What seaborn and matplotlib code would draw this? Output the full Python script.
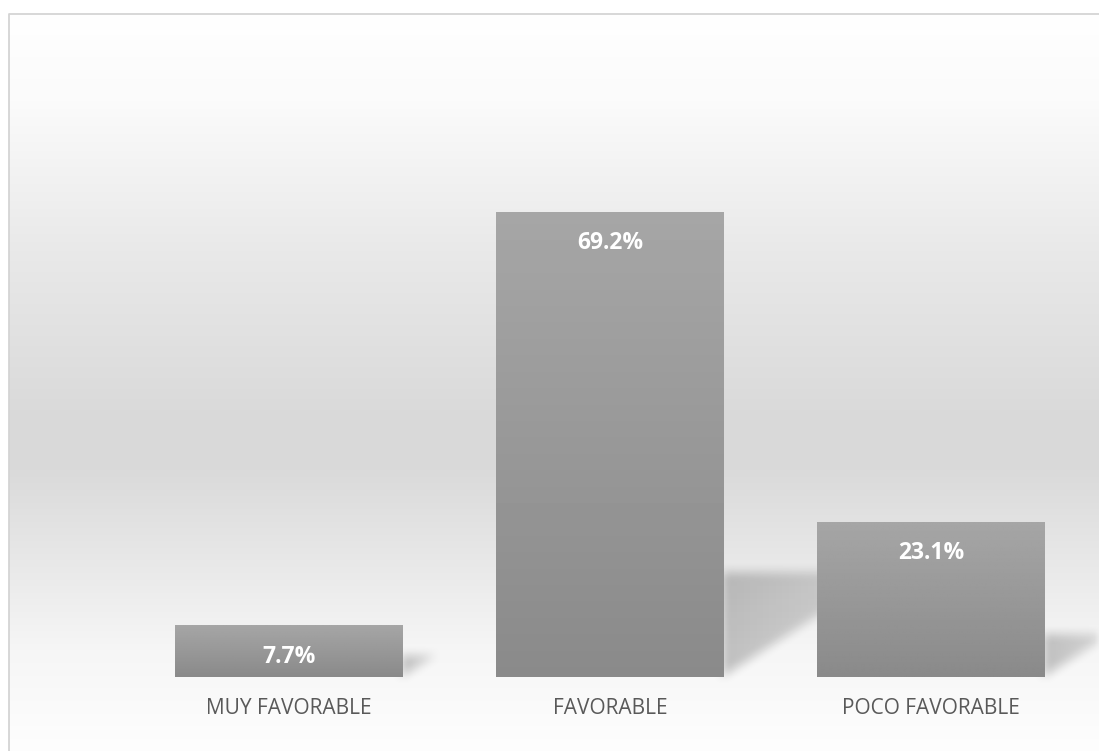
import numpy as np
import pandas as pd
import matplotlib
matplotlib.use("Agg")
import matplotlib.pyplot as plt
import seaborn as sns
from matplotlib.path import Path

categories = ["MUY FAVORABLE", "FAVORABLE", "POCO FAVORABLE"]
values = [7.7, 69.2, 23.1]
labels = ["7.7%", "69.2%", "23.1%"]

sns.set_theme(style="white")
plt.rcParams['font.family'] = ['Open Sans', 'DejaVu Sans']

W, H = 1099, 751
fig = plt.figure(figsize=(W / 100, H / 100), dpi=100)
fig.patch.set_facecolor("white")

# background axes (pixel coordinates, origin top-left)
ax_bg = fig.add_axes([0, 0, 1, 1], zorder=0)
ax_bg.set_xlim(0, W)
ax_bg.set_ylim(H, 0)
ax_bg.axis("off")

rows = np.arange(H)
stops_y = [13, 100, 250, 420, 470, 560, 650, 751]
stops_v = [255, 251, 233, 217, 218, 232, 246, 254]
col = np.interp(rows, stops_y, stops_v) / 255.0
bg = np.ones((H, W, 3))
bg[:, :, :] = col[:, None, None]
ax_bg.imshow(bg, extent=(0, W, H, 0), interpolation="nearest", aspect="auto",
             zorder=0)
ax_bg.fill_between([0, W], 0, 13.5, color="white", lw=0, zorder=0.5)
ax_bg.fill_between([0, 8.5], 0, H, color="white", lw=0, zorder=0.5)
ax_bg.plot([8.5, 8.5, W], [H, 13.5, 13.5], color="#d4d4d4", lw=1.3, zorder=3,
           solid_capstyle="butt")

# main axes
ax = fig.add_axes([128.5 / W, (H - 677) / H, 963 / W, 80 * 6.72 / H], zorder=1)
ax.patch.set_alpha(0)
df = pd.DataFrame({"cat": categories, "val": values})
sns.barplot(data=df, x="cat", y="val", color="#999999", width=0.71,
            saturation=1, ax=ax, zorder=2, linewidth=0, edgecolor="none")
ax.set_xlim(-0.5, 2.5)
ax.set_ylim(0, 80)
for s in ax.spines.values():
    s.set_visible(False)
ax.set_yticks([])
ax.set_xlabel("")
ax.set_ylabel("")
ax.tick_params(axis="x", length=0, pad=15, labelsize=15, labelcolor="#595959")

# gradient fill on bars
bar_grad = np.linspace(0xa6, 0x8a, 100)[:, None] / 255.0
for p in ax.patches:
    x0, y0 = p.get_x(), p.get_y()
    w, h = p.get_width(), p.get_height()
    im = ax.imshow(np.repeat(bar_grad, 2, axis=1), cmap="gray", vmin=0, vmax=1,
                   aspect="auto", extent=(x0, x0 + w, y0, y0 + h),
                   interpolation="bilinear", zorder=2.5)
    im.set_clip_path(p)
ax.set_xlim(-0.5, 2.5)
ax.set_ylim(0, 80)

# data labels
for p, lab in zip(ax.patches, labels):
    ax.annotate(lab, (p.get_x() + p.get_width() / 2, p.get_height()),
                xytext=(0, -22.5), textcoords="offset points", ha="center",
                va="center", color="white", fontsize=16.5, fontweight="bold",
                zorder=4)

# soft perspective shadows (computed from bar geometry in display space)
yy, xx = np.mgrid[0:H, 0:W]
pts = np.column_stack([xx.ravel() + 0.5, (H - yy.ravel()) - 0.5])
alpha = np.zeros(H * W)
for p in ax.patches:
    xr = p.get_x() + p.get_width()
    (px_r, py_b) = ax.transData.transform((xr, 0))
    (_, py_t) = ax.transData.transform((xr, p.get_height()))
    hpx = py_t - py_b
    hs = 0.2 * hpx + 12
    L = hs / 0.65
    tri = Path([(px_r - 2, py_b), (px_r - 2, py_b + hs), (px_r + L, py_b + hs),
                (px_r - 2, py_b)])
    inside = tri.contains_points(pts)
    fade = np.clip(1 - 0.45 * (pts[:, 0] - px_r) / L, 0.3, 1)
    alpha = np.maximum(alpha, inside * 0.22 * fade)
alpha = alpha.reshape(H, W)


def box_blur(a, r):
    k = np.ones(2 * r + 1) / (2 * r + 1)
    a = np.apply_along_axis(lambda m: np.convolve(m, k, mode="same"), 0, a)
    a = np.apply_along_axis(lambda m: np.convolve(m, k, mode="same"), 1, a)
    return a


alpha = box_blur(alpha, 6)
alpha = box_blur(alpha, 4)
rgba = np.zeros((H, W, 4))
rgba[..., 3] = alpha
ax_bg.imshow(rgba, extent=(0, W, H, 0), zorder=1, interpolation="nearest",
             aspect="auto")
ax_bg.set_xlim(0, W)
ax_bg.set_ylim(H, 0)

fig.savefig("out.png", dpi=100)
